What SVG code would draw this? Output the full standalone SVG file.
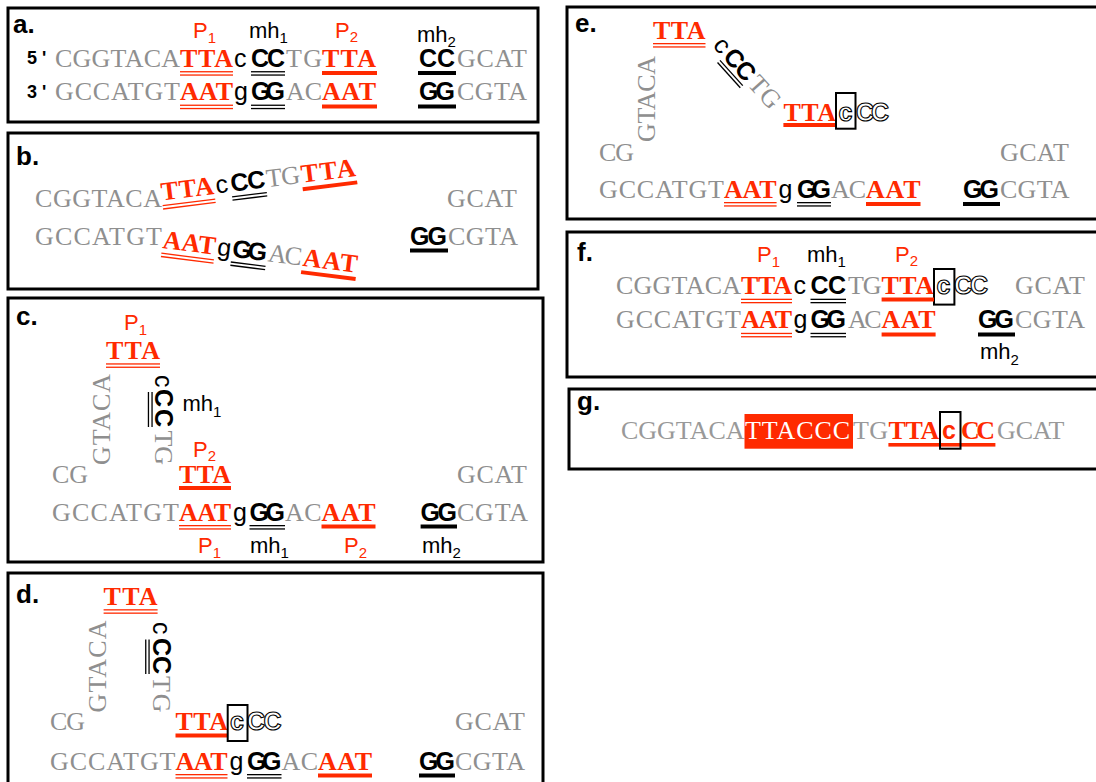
<svg xmlns="http://www.w3.org/2000/svg" width="1096" height="782" viewBox="0 0 1096 782">
<style>
.frame{fill:none;stroke:#000;stroke-width:3}
.pl{font-family:"Liberation Sans",Arial,sans-serif;font-weight:bold;font-size:26px;fill:#000}
.gr{font-family:"Liberation Serif","Times New Roman",serif;font-size:26px;fill:#8f8f8f}
.rd{font-family:"Liberation Serif","Times New Roman",serif;font-weight:bold;font-size:26px;fill:#ff2a00}
.wt{font-family:"Liberation Serif","Times New Roman",serif;font-size:26px;fill:#fff}
.kb{font-family:"Liberation Sans",Arial,sans-serif;font-weight:bold;font-size:25px;fill:#000}
.rb{font-family:"Liberation Sans",Arial,sans-serif;font-weight:bold;font-size:25px;fill:#ff2a00}
.ks{font-family:"Liberation Sans",Arial,sans-serif;font-size:25px;fill:#000}
.ol{font-family:"Liberation Sans",Arial,sans-serif;font-weight:bold;font-size:25px;fill:#fff;stroke:#000;stroke-width:1.1}
.lr{font-family:"Liberation Sans",Arial,sans-serif;font-size:22px;fill:#ff2a00}
.lk{font-family:"Liberation Sans",Arial,sans-serif;font-size:22px;fill:#000}
.sub{font-size:15px}
.end{font-family:"Liberation Sans",Arial,sans-serif;font-weight:bold;font-size:18px;fill:#000}
.ur{fill:#ff2a00}
.uk{fill:#000}
.bx{fill:none;stroke:#000;stroke-width:2}
</style>

<g id="panel-a">
<rect class="frame" x="8" y="8" width="530" height="114"/>
<text class="pl" x="13" y="33">a.</text>
<text class="lr" x="193" y="38">P<tspan class="sub" dy="5">1</tspan></text>
<text class="lk" x="249" y="38">mh<tspan class="sub" dy="5">1</tspan></text>
<text class="lr" x="335" y="38">P<tspan class="sub" dy="4">2</tspan></text>
<text class="lk" x="417" y="42">mh<tspan class="sub" dy="5">2</tspan></text>
<text class="end" x="27" y="64">5</text><text class="end" x="42" y="64">'</text>
<text class="gr" x="55" y="66.5" textLength="125">CGGTACA</text>
<text class="rd" x="180" y="66.5" textLength="53">TTA</text>
<text class="ks" x="234" y="66.5">c</text>
<text class="kb" x="251" y="66.5" textLength="34">CC</text>
<text class="gr" x="286" y="66.5" textLength="36">TG</text>
<text class="rd" x="322" y="66.5" textLength="54">TTA</text>
<text class="kb" x="419" y="66.5" textLength="36">CC</text>
<text class="gr" x="457" y="66.5" textLength="70">GCAT</text>
<rect class="ur" x="180" y="71.1" width="53" height="1.3"/><rect class="ur" x="180" y="74.4" width="53" height="1.3"/>
<rect class="uk" x="251" y="71.1" width="34" height="1.3"/><rect class="uk" x="251" y="74.4" width="34" height="1.3"/>
<rect class="ur" x="322" y="71" width="55" height="4"/>
<rect class="uk" x="418" y="71" width="38" height="4"/>
<text class="end" x="27" y="98">3</text><text class="end" x="42" y="98">'</text>
<text class="gr" x="55" y="100" textLength="125">GCCATGT</text>
<text class="rd" x="180" y="100" textLength="53">AAT</text>
<text class="ks" x="234" y="100">g</text>
<text class="kb" x="251" y="100" textLength="34">GG</text>
<text class="gr" x="286" y="100" textLength="36">AC</text>
<text class="rd" x="322" y="100" textLength="54">AAT</text>
<text class="kb" x="419" y="100" textLength="36">GG</text>
<text class="gr" x="457" y="100" textLength="70">CGTA</text>
<rect class="ur" x="180" y="104.6" width="53" height="1.3"/><rect class="ur" x="180" y="107.9" width="53" height="1.3"/>
<rect class="uk" x="251" y="104.6" width="34" height="1.3"/><rect class="uk" x="251" y="107.9" width="34" height="1.3"/>
<rect class="ur" x="322" y="104.5" width="55" height="4"/>
<rect class="uk" x="418" y="104.5" width="38" height="4"/>
</g>

<g id="panel-b">
<rect class="frame" x="8" y="133" width="530" height="156"/>
<text class="pl" x="16" y="165">b.</text>
<text class="gr" x="35" y="206.5" textLength="127">CGGTACA</text>
<g transform="translate(162,200.5) rotate(-7.2)">
<text class="rd" x="0" y="0" textLength="53">TTA</text>
<text class="ks" x="55" y="0">c</text>
<text class="kb" x="70" y="0" textLength="35">CC</text>
<text class="gr" x="106" y="0" textLength="34">TG</text>
<text class="rd" x="141" y="0" textLength="55">TTA</text>
<rect class="ur" x="0" y="4.6" width="53" height="1.3"/><rect class="ur" x="0" y="7.9" width="53" height="1.3"/>
<rect class="uk" x="70" y="4.6" width="35" height="1.3"/><rect class="uk" x="70" y="7.9" width="35" height="1.3"/>
<rect class="ur" x="141" y="4.5" width="55" height="4"/>
</g>
<text class="gr" x="447" y="206.5" textLength="70">GCAT</text>
<text class="gr" x="35" y="244.7" textLength="127">GCCATGT</text>
<g transform="translate(162,248) rotate(7.2)">
<text class="rd" x="0" y="0" textLength="53">AAT</text>
<text class="ks" x="55" y="0">g</text>
<text class="kb" x="70" y="0" textLength="35">GG</text>
<text class="gr" x="106" y="0" textLength="34">AC</text>
<text class="rd" x="141" y="0" textLength="55">AAT</text>
<rect class="ur" x="0" y="4.6" width="53" height="1.3"/><rect class="ur" x="0" y="7.9" width="53" height="1.3"/>
<rect class="uk" x="70" y="4.6" width="35" height="1.3"/><rect class="uk" x="70" y="7.9" width="35" height="1.3"/>
<rect class="ur" x="141" y="4.5" width="55" height="4"/>
</g>
<text class="kb" x="410" y="244.7" textLength="37">GG</text>
<rect class="uk" x="410" y="248.5" width="38" height="4"/>
<text class="gr" x="448" y="244.7" textLength="70">CGTA</text>
</g>

<g id="panel-c">
<rect class="frame" x="8" y="298" width="535" height="264"/>
<text class="pl" x="16" y="324.5">c.</text>
<text class="lr" x="124" y="330">P<tspan class="sub" dy="5">1</tspan></text>
<text class="rd" x="106" y="359" textLength="54">TTA</text>
<rect class="ur" x="106" y="363.3" width="54" height="1.3"/><rect class="ur" x="106" y="366.6" width="54" height="1.3"/>
<g transform="translate(109.5,465) rotate(-90)"><text class="gr" x="0" y="0" textLength="91">GTACA</text></g>
<g transform="translate(154.7,375) rotate(90)">
<text class="ks" x="0" y="0">c</text>
<text class="kb" x="14" y="0" textLength="38">CC</text>
<text class="gr" x="55.5" y="0" textLength="34.5">TG</text>
<rect class="uk" x="17" y="2" width="35" height="1.3"/><rect class="uk" x="17" y="5.6" width="35" height="1.3"/>
</g>
<text class="lk" x="182.5" y="411.4">mh<tspan class="sub" dy="6">1</tspan></text>
<text class="lr" x="193" y="457">P<tspan class="sub" dy="3.5">2</tspan></text>
<text class="gr" x="52" y="482.7" textLength="36">CG</text>
<text class="rd" x="179" y="482.7" textLength="52">TTA</text>
<rect class="ur" x="179" y="486" width="52" height="4"/>
<text class="gr" x="457" y="482.7" textLength="70">GCAT</text>
<text class="gr" x="52" y="521" textLength="127">GCCATGT</text>
<text class="rd" x="179" y="521" textLength="52">AAT</text>
<text class="ks" x="233" y="521">g</text>
<text class="kb" x="249.5" y="521" textLength="35.5">GG</text>
<text class="gr" x="285" y="521" textLength="36.5">AC</text>
<text class="rd" x="321.5" y="521" textLength="54">AAT</text>
<text class="kb" x="420.6" y="521" textLength="36.4">GG</text>
<text class="gr" x="457" y="521" textLength="71">CGTA</text>
<rect class="ur" x="179" y="525" width="52" height="1.3"/><rect class="ur" x="179" y="528.3" width="52" height="1.3"/>
<rect class="uk" x="249.5" y="525" width="35.5" height="1.3"/><rect class="uk" x="249.5" y="528.3" width="35.5" height="1.3"/>
<rect class="ur" x="321.5" y="524.5" width="54" height="4"/>
<rect class="uk" x="420.6" y="524.5" width="36.4" height="4"/>
<text class="lr" x="198" y="553">P<tspan class="sub" dy="5">1</tspan></text>
<text class="lk" x="250" y="553">mh<tspan class="sub" dy="5">1</tspan></text>
<text class="lr" x="344" y="553">P<tspan class="sub" dy="5">2</tspan></text>
<text class="lk" x="422" y="553">mh<tspan class="sub" dy="5">2</tspan></text>
</g>

<g id="panel-d">
<rect class="frame" x="8" y="573" width="535" height="215"/>
<text class="pl" x="16" y="603">d.</text>
<text class="rd" x="103.6" y="604.8" textLength="54">TTA</text>
<rect class="ur" x="103.6" y="609.2" width="54" height="1.3"/><rect class="ur" x="103.6" y="612.5" width="54" height="1.3"/>
<g transform="translate(106,712.5) rotate(-90)"><text class="gr" x="0" y="0" textLength="92">GTACA</text></g>
<g transform="translate(153,622) rotate(90)">
<text class="ks" x="0" y="0">c</text>
<text class="kb" x="16" y="0" textLength="36">CC</text>
<text class="gr" x="54" y="0" textLength="36.5">TG</text>
<rect class="uk" x="17.5" y="3.3" width="34.5" height="1.3"/><rect class="uk" x="17.5" y="6.6" width="34.5" height="1.3"/>
</g>
<text class="gr" x="50" y="730" textLength="35">CG</text>
<text class="rd" x="175.5" y="730" textLength="52.5">TTA</text>
<rect class="ur" x="175.5" y="733.5" width="52.5" height="4"/>
<text class="ol" x="230" y="730">c</text>
<text class="ol" x="247" y="730" textLength="34.5">CC</text>
<rect class="bx" x="227.7" y="705" width="19.8" height="36"/>
<text class="gr" x="455" y="730" textLength="70">GCAT</text>
<text class="gr" x="50" y="770" textLength="125.5">GCCATGT</text>
<text class="rd" x="175.5" y="770" textLength="52">AAT</text>
<text class="ks" x="229.5" y="770">g</text>
<text class="kb" x="247" y="770" textLength="34.5">GG</text>
<text class="gr" x="281.5" y="770" textLength="36.5">AC</text>
<text class="rd" x="318" y="770" textLength="54">AAT</text>
<text class="kb" x="419" y="770" textLength="36">GG</text>
<text class="gr" x="455" y="770" textLength="70">CGTA</text>
<rect class="ur" x="175.5" y="774" width="52" height="1.3"/><rect class="ur" x="175.5" y="777.3" width="52" height="1.3"/>
<rect class="uk" x="247" y="774" width="34.5" height="1.3"/><rect class="uk" x="247" y="777.3" width="34.5" height="1.3"/>
<rect class="ur" x="318" y="773.5" width="54" height="4"/>
<rect class="uk" x="419" y="773.5" width="36" height="4"/>
</g>

<g id="panel-e">
<rect class="frame" x="567" y="7" width="540" height="212"/>
<text class="pl" x="575" y="32">e.</text>
<text class="rd" x="653" y="39" textLength="52.5">TTA</text>
<rect class="ur" x="653" y="43" width="52.5" height="1.3"/><rect class="ur" x="653" y="46.3" width="52.5" height="1.3"/>
<g transform="translate(655,142) rotate(-90)"><text class="gr" x="0" y="0" textLength="86">GTACA</text></g>
<g transform="translate(712,46) rotate(48)">
<text class="ks" x="0" y="0">c</text>
<text class="kb" x="15" y="0" textLength="35">CC</text>
<text class="gr" x="52" y="0" textLength="35">TG</text>
<rect class="uk" x="16" y="3" width="34" height="1.3"/><rect class="uk" x="16" y="6.3" width="34" height="1.3"/>
</g>
<text class="rd" x="783.4" y="120.5" textLength="52.6">TTA</text>
<rect class="ur" x="783.4" y="123" width="52.6" height="4"/>
<text class="ol" x="838.5" y="120.5">c</text>
<text class="ol" x="856" y="120.5" textLength="33">CC</text>
<rect class="bx" x="836" y="93" width="19.5" height="35.7"/>
<text class="gr" x="599" y="161" textLength="35">CG</text>
<text class="gr" x="1000" y="161" textLength="69">GCAT</text>
<text class="gr" x="599" y="198" textLength="125">GCCATGT</text>
<text class="rd" x="724" y="198" textLength="52.6">AAT</text>
<text class="ks" x="778.5" y="198">g</text>
<text class="kb" x="797" y="198" textLength="34">GG</text>
<text class="gr" x="831" y="198" textLength="35">AC</text>
<text class="rd" x="866" y="198" textLength="54.5">AAT</text>
<text class="kb" x="963" y="198" textLength="36">GG</text>
<text class="gr" x="1000" y="198" textLength="69.5">CGTA</text>
<rect class="ur" x="724" y="202" width="52.6" height="1.3"/><rect class="ur" x="724" y="205.3" width="52.6" height="1.3"/>
<rect class="uk" x="797" y="202" width="34" height="1.3"/><rect class="uk" x="797" y="205.3" width="34" height="1.3"/>
<rect class="ur" x="866" y="202" width="54.5" height="4"/>
<rect class="uk" x="963" y="202" width="37" height="4"/>
</g>

<g id="panel-f">
<rect class="frame" x="567" y="232" width="540" height="145"/>
<text class="pl" x="577" y="260.5">f.</text>
<text class="lr" x="757" y="262">P<tspan class="sub" dy="5">1</tspan></text>
<text class="lk" x="807" y="262">mh<tspan class="sub" dy="5">1</tspan></text>
<text class="lr" x="895" y="262">P<tspan class="sub" dy="4">2</tspan></text>
<text class="gr" x="616" y="294.4" textLength="125">CGGTACA</text>
<text class="rd" x="741" y="294.4" textLength="51">TTA</text>
<text class="ks" x="793.6" y="294.4">c</text>
<text class="kb" x="810.5" y="294.4" textLength="35.5">CC</text>
<text class="gr" x="848" y="294.4" textLength="33.6">TG</text>
<text class="rd" x="881.6" y="294.4" textLength="52.4">TTA</text>
<text class="ol" x="936.5" y="294.4">c</text>
<text class="ol" x="954" y="294.4" textLength="34">CC</text>
<rect class="bx" x="934" y="269" width="20.4" height="35.6"/>
<text class="gr" x="1015" y="294.4" textLength="70">GCAT</text>
<rect class="ur" x="741" y="298.7" width="51" height="1.3"/><rect class="ur" x="741" y="302" width="51" height="1.3"/>
<rect class="uk" x="810.5" y="298.7" width="35.5" height="1.3"/><rect class="uk" x="810.5" y="302" width="35.5" height="1.3"/>
<rect class="ur" x="881.6" y="297.5" width="52.4" height="4"/>
<text class="gr" x="616" y="328" textLength="125">GCCATGT</text>
<text class="rd" x="741" y="328" textLength="51">AAT</text>
<text class="ks" x="793.6" y="328">g</text>
<text class="kb" x="810.5" y="328" textLength="35.5">GG</text>
<text class="gr" x="848" y="328" textLength="33.6">AC</text>
<text class="rd" x="881.6" y="328" textLength="54">AAT</text>
<text class="kb" x="978" y="328" textLength="36">GG</text>
<text class="gr" x="1015" y="328" textLength="70">CGTA</text>
<rect class="ur" x="741" y="332.8" width="51" height="1.3"/><rect class="ur" x="741" y="336.1" width="51" height="1.3"/>
<rect class="uk" x="810.5" y="332.8" width="35.5" height="1.3"/><rect class="uk" x="810.5" y="336.1" width="35.5" height="1.3"/>
<rect class="ur" x="881.6" y="332.5" width="54" height="4"/>
<rect class="uk" x="978" y="332.5" width="37" height="4"/>
<text class="lk" x="980" y="358.8">mh<tspan class="sub" dy="6">2</tspan></text>
</g>

<g id="panel-g">
<rect class="frame" x="569" y="389" width="540" height="80"/>
<text class="pl" x="577" y="410">g.</text>
<text class="gr" x="621" y="439" textLength="123.5" style="fill:#999">CGGTACA</text>
<rect x="744.5" y="414" width="108.5" height="34.7" fill="#ff2a00"/>
<text class="wt" x="745" y="439" textLength="105">TTACCC</text>
<text class="gr" x="853" y="439" textLength="35" style="fill:#999">TG</text>
<text class="rd" x="888.4" y="439" textLength="51">TTA</text>
<text class="rb" x="942" y="439">c</text>
<text class="rd" x="961" y="439" textLength="34">CC</text>
<rect class="ur" x="888.4" y="443" width="107" height="3.6"/>
<rect class="bx" x="940" y="412" width="20.5" height="36.7"/>
<text class="gr" x="997" y="439" textLength="67.5" style="fill:#999">GCAT</text>
</g>
</svg>
